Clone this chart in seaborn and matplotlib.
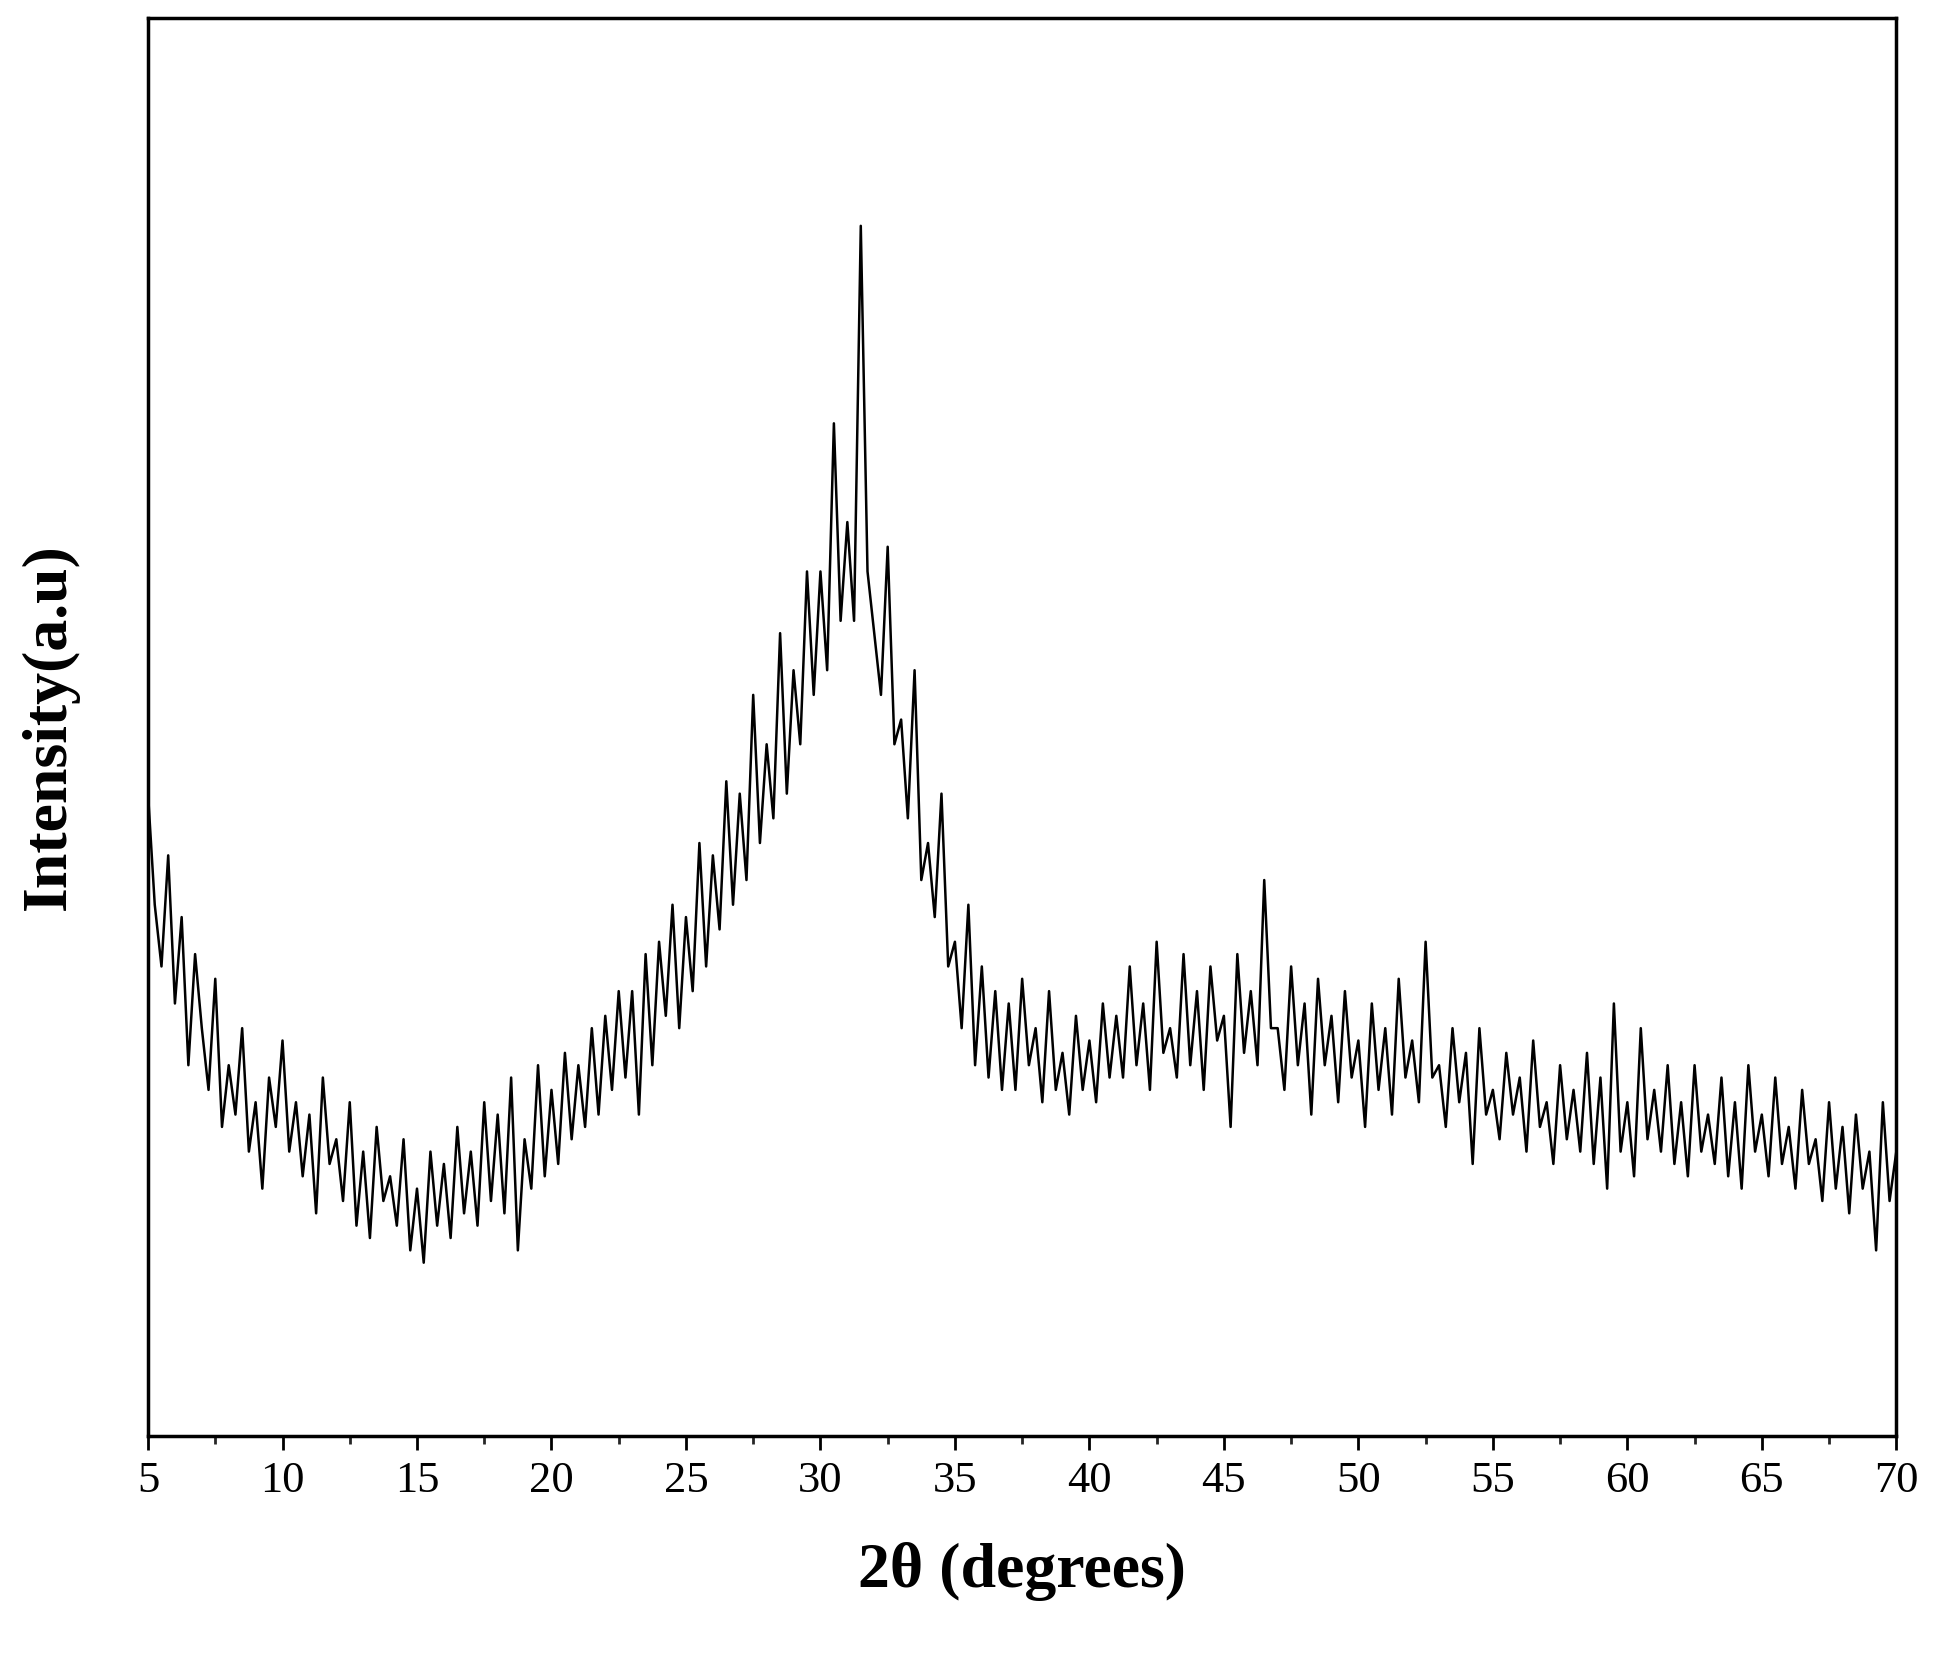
import matplotlib
matplotlib.use("Agg")
import matplotlib.pyplot as plt
import seaborn as sns
import numpy as np
from matplotlib.ticker import MultipleLocator

# intensity, 4 points per degree from 5 to 70
intensity = [
    520, 430, 380, 470, 350, 420, 300, 390, 330, 280, 370, 250,
    300, 260, 330, 230, 270, 200, 290, 250, 320, 230, 270, 210,
    260, 180, 290, 220, 240, 190, 270, 170, 230, 160, 250, 190,
    210, 170, 240, 150, 200, 140, 230, 170, 220, 160, 250, 180,
    230, 170, 270, 190, 260, 180, 290, 150, 240, 200, 300, 210,
    280, 220, 310, 240, 300, 250, 330, 260, 340, 280, 360, 290,
    360, 260, 390, 300, 400, 340, 430, 330, 420, 360, 480, 380,
    470, 410, 530, 430, 520, 450, 600, 480, 560, 500, 650, 520,
    620, 560, 700, 600, 700, 620, 820, 660, 740, 660, 980, 700,
    650, 600, 720, 560, 580, 500, 620, 450, 480, 420, 520, 380,
    400, 330, 430, 300, 380, 290, 360, 280, 350, 280, 370, 300,
    330, 270, 360, 280, 310, 260, 340, 280, 320, 270, 350, 290,
    340, 290, 380, 300, 350, 280, 400, 310, 330, 290, 390, 300,
    360, 280, 380, 320, 340, 250, 390, 310, 360, 300, 450, 330,
    330, 280, 380, 300, 350, 260, 370, 300, 340, 270, 360, 290,
    320, 250, 350, 280, 330, 260, 370, 290, 320, 270, 400, 290,
    300, 250, 330, 270, 310, 220, 330, 260, 280, 240, 310, 260,
    290, 230, 320, 250, 270, 220, 300, 240, 280, 230, 310, 220,
    290, 200, 350, 230, 270, 210, 330, 240, 280, 230, 300, 220,
    270, 210, 300, 230, 260, 220, 290, 210, 270, 200, 300, 230,
    260, 210, 290, 220, 250, 200, 280, 220, 240, 190, 270, 200,
    250, 180, 260, 200, 230, 150, 270, 190, 230,
]
two_theta = np.linspace(5, 70, len(intensity))

sns.set_theme(style="ticks")
plt.rcParams["font.family"] = ["Liberation Serif", "DejaVu Serif"]
plt.rcParams["text.color"] = "black"
plt.rcParams["axes.labelcolor"] = "black"

fig = plt.figure(figsize=(19.35, 16.77), dpi=100)
ax = fig.add_axes([0.0765, 0.144, 0.9035, 0.845])
sns.lineplot(x=two_theta, y=intensity, ax=ax, color="black", linewidth=1.8)

ax.set_xlim(5, 70)
ax.set_ylim(0, 1148)
ax.xaxis.set_major_locator(MultipleLocator(5))
ax.xaxis.set_minor_locator(MultipleLocator(2.5))
ax.set_yticks([])
ax.tick_params(axis="x", which="major", direction="out", length=10, width=2,
               labelsize=32, pad=8, colors="black")
ax.tick_params(axis="x", which="minor", direction="out", length=6, width=2)
for s in ax.spines.values():
    s.set_linewidth(2.5)
    s.set_color("black")

ax.set_xlabel("2θ (degrees)", fontsize=46, fontweight="bold", labelpad=30)
ax.set_ylabel("Intensity(a.u)", fontsize=46, fontweight="bold", labelpad=50)

fig.savefig("out.png", dpi=100)
